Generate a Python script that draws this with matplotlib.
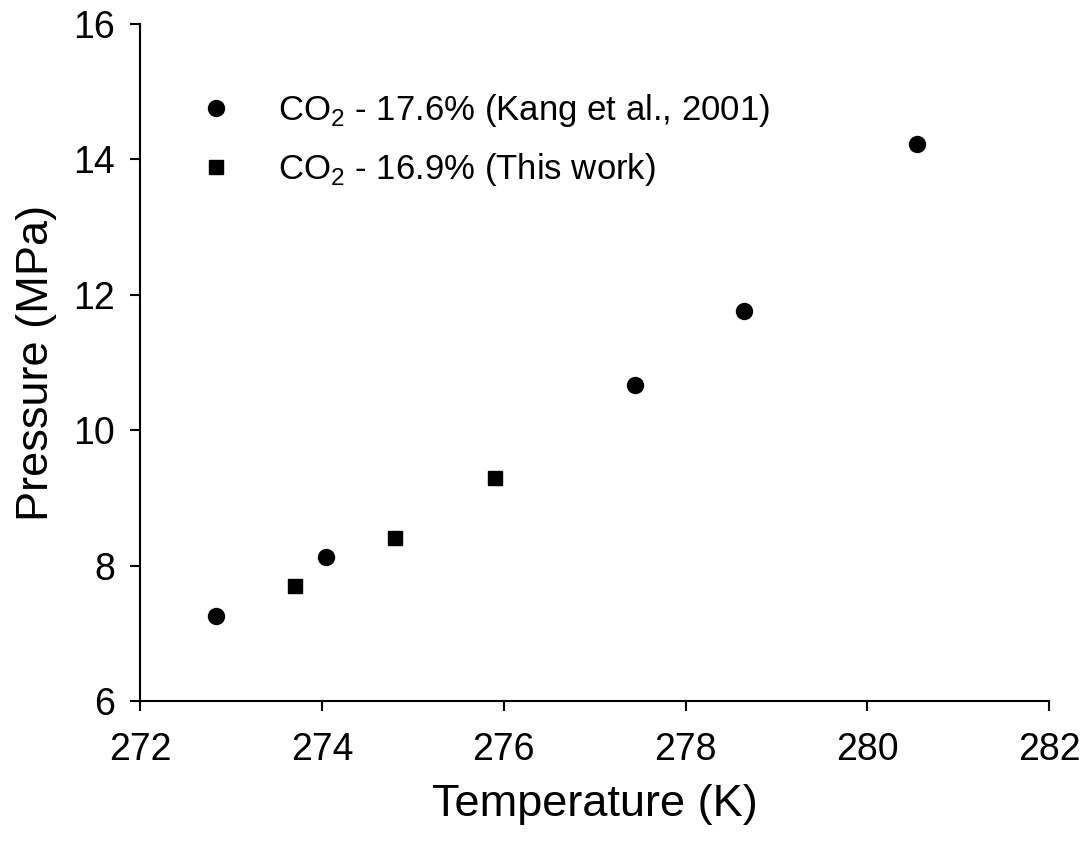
import matplotlib
matplotlib.use('Agg')
import matplotlib.pyplot as plt

plt.rcParams['font.family'] = ['Liberation Sans', 'DejaVu Sans']
plt.rcParams['mathtext.fontset'] = 'custom'
plt.rcParams['mathtext.rm'] = 'Liberation Sans'

# Kang et al., 2001 (CO2 17.6%)
kang_T = [272.84, 274.04, 277.44, 278.64, 280.54]
kang_P = [7.26, 8.13, 10.66, 11.76, 14.23]
# This work (CO2 16.9%)
this_T = [273.70, 274.80, 275.90]
this_P = [7.70, 8.40, 9.30]

xticks = [272, 274, 276, 278, 280, 282]
yticks = [6, 8, 10, 12, 14, 16]

fig = plt.figure(figsize=(10.83, 8.42), dpi=100)
ax = fig.add_axes([0.1293, 0.1675, 0.9689 - 0.1293, 0.9715 - 0.1675])

ax.plot(kang_T, kang_P, 'o', ms=11.5, c='black', mec='black',
        label=r'CO$_\mathregular{2}$ - 17.6% (Kang et al., 2001)')
ax.plot(this_T, this_P, 's', ms=10.5, c='black', mec='black',
        label=r'CO$_\mathregular{2}$ - 16.9% (This work)')

ax.set_xlim(272, 282)
ax.set_ylim(6, 16)
ax.set_xticks(xticks)
ax.set_yticks(yticks)
ax.spines['top'].set_visible(False)
ax.spines['right'].set_visible(False)
for s in ['left', 'bottom']:
    ax.spines[s].set_linewidth(1.5)
ax.tick_params(direction='out', length=7, width=1.5, labelsize=27)
ax.tick_params(axis='x', pad=15)
ax.tick_params(axis='y', pad=11)

ax.set_xlabel('Temperature (K)', fontsize=32.5, labelpad=12)
ax.set_ylabel('Pressure (MPa)', fontsize=32.5, labelpad=12)

ax.legend(loc='upper left', bbox_to_anchor=(0.049, 0.92), frameon=False,
          fontsize=25, handletextpad=1.29, labelspacing=0.63,
          handlelength=1.0, borderaxespad=0)

fig.savefig('out.png', dpi=100)
